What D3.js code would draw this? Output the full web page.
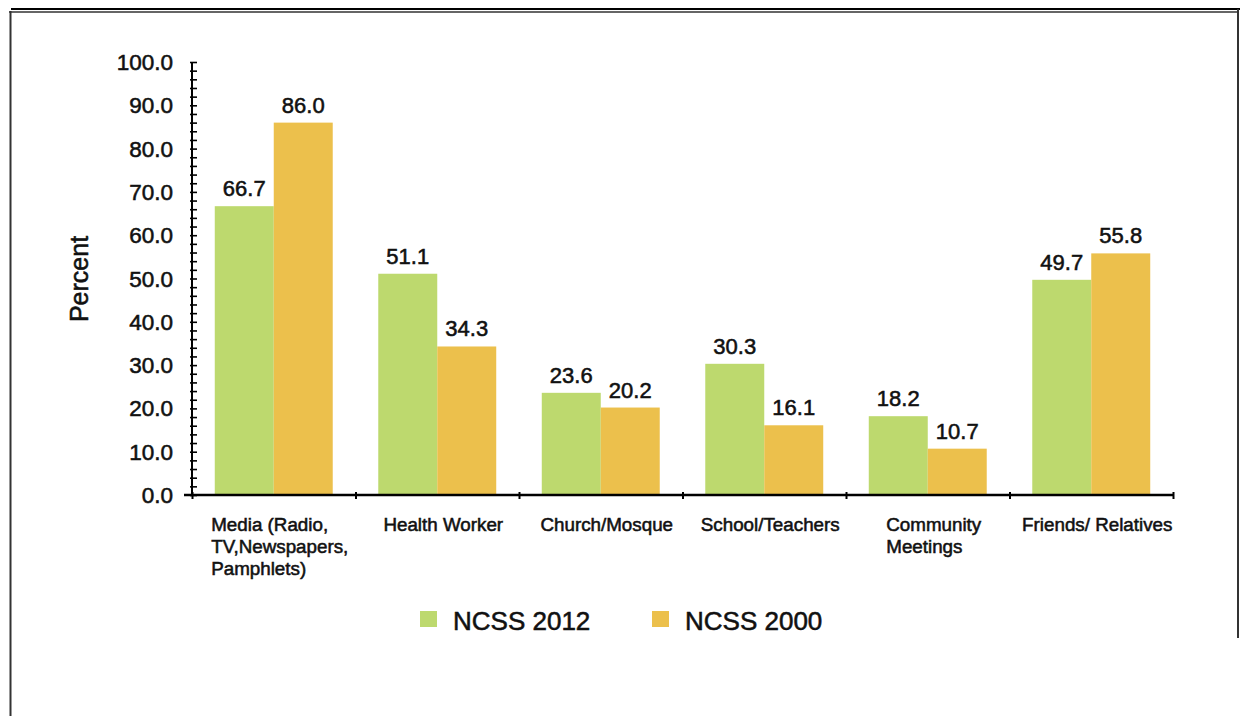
<!DOCTYPE html>
<html>
<head>
<meta charset="utf-8">
<script src="https://cdn.jsdelivr.net/npm/d3@7"></script>
<style>
  html, body { margin: 0; padding: 0; background: #fff; }
  svg { display: block; }
  text { font-family: "Liberation Sans", Arial, Helvetica, sans-serif; fill: #111; }
  .med { stroke: #111; stroke-width: 0.55px; }
</style>
</head>
<body>
<svg id="chart" width="1240" height="716"></svg>
<script>
const categories = [
  ["Media (Radio,", "TV,Newspapers,", "Pamphlets)"],
  ["Health Worker"],
  ["Church/Mosque"],
  ["School/Teachers"],
  ["Community", "Meetings"],
  ["Friends/ Relatives"]
];
const seriesNames = ["NCSS 2012", "NCSS 2000"];
const ncss2012 = [66.7, 51.1, 23.6, 30.3, 18.2, 49.7];
const ncss2000 = [86.0, 34.3, 20.2, 16.1, 10.7, 55.8];
const yTicks = [0, 10, 20, 30, 40, 50, 60, 70, 80, 90, 100];
const colors = ["#BDD96E", "#ECC04C"];

const svg = d3.select("#chart");

// Frame
svg.append("line").attr("x1", 11).attr("x2", 1240).attr("y1", 9).attr("y2", 9).attr("stroke", "#000").attr("stroke-width", 2);
svg.append("line").attr("x1", 9).attr("x2", 1238).attr("y1", 12).attr("y2", 12).attr("stroke", "#333").attr("stroke-width", 1.3);
svg.append("line").attr("x1", 10.5).attr("x2", 10.5).attr("y1", 11).attr("y2", 716).attr("stroke", "#333").attr("stroke-width", 2);
svg.append("line").attr("x1", 1238).attr("x2", 1238).attr("y1", 9).attr("y2", 638).attr("stroke", "#333").attr("stroke-width", 2);

const x0 = d3.scaleBand().domain(d3.range(categories.length)).range([192, 1173]).paddingInner(0).paddingOuter(0);
const x1 = d3.scaleBand().domain([0, 1]).range([0, x0.bandwidth()]).paddingInner(0).paddingOuter(0.386);
const y = d3.scaleLinear().domain([0, 100]).range([495, 62]);

const data = categories.map((c, i) => ({ i, vals: [ncss2012[i], ncss2000[i]] }));

// Bars
const groups = svg.append("g").selectAll("g").data(data).join("g")
  .attr("transform", d => `translate(${x0(d.i)},0)`);
groups.selectAll("rect").data(d => d.vals.map((v, s) => ({ v, s }))).join("rect")
  .attr("x", d => x1(d.s))
  .attr("width", x1.bandwidth())
  .attr("y", d => y(d.v))
  .attr("height", d => y(0) - y(d.v))
  .attr("fill", d => colors[d.s]);
groups.selectAll("text").data(d => d.vals.map((v, s) => ({ v, s }))).join("text")
  .attr("class", "med")
  .attr("x", d => x1(d.s) + x1.bandwidth() / 2)
  .attr("y", d => y(d.v) - 10)
  .attr("text-anchor", "middle")
  .attr("font-size", 22)
  .text(d => d.v.toFixed(1));

// Y axis
const yAxis = d3.axisRight(y)
  .tickValues(d3.range(0, 101, 2))
  .tickSize(5)
  .tickFormat("");
const yg = svg.append("g").attr("transform", "translate(192,0)").call(yAxis);
yg.select(".domain").remove();
yg.selectAll(".tick line").attr("stroke", "#000").attr("stroke-width", 1.6).attr("x1", -2).attr("x2", 5);
svg.append("line").attr("x1", 192).attr("x2", 192).attr("y1", 62).attr("y2", 496).attr("stroke", "#000").attr("stroke-width", 2);

svg.append("g").selectAll("text").data(yTicks).join("text")
  .attr("class", "med")
  .attr("x", 173)
  .attr("y", d => y(d) + 8)
  .attr("text-anchor", "end")
  .attr("font-size", 22.5)
  .text(d => d.toFixed(1));

// X axis
const xAxis = d3.axisBottom(d3.scaleLinear().domain([0, categories.length]).range([192, 1173]))
  .tickValues(d3.range(0, categories.length + 1))
  .tickSize(4)
  .tickFormat("");
const xg = svg.append("g").attr("transform", "translate(0,495)").call(xAxis);
xg.select(".domain").remove();
xg.selectAll(".tick line").attr("stroke", "#000").attr("stroke-width", 2).attr("y1", -3).attr("y2", 4);
svg.append("line").attr("x1", 184).attr("x2", 1174).attr("y1", 495).attr("y2", 495).attr("stroke", "#000").attr("stroke-width", 2.3);

// Category labels (left-aligned block, centred in band)
const catG = svg.append("g").selectAll("text").data(data).join("text")
  .attr("class", "med")
  .attr("font-size", 18.8)
  .attr("y", 531);
catG.each(function(d) {
  const t = d3.select(this);
  categories[d.i].forEach((line, k) => {
    t.append("tspan").attr("dy", k === 0 ? 0 : 22).text(line);
  });
  let w = 0;
  t.selectAll("tspan").each(function() { w = Math.max(w, this.getComputedTextLength()); });
  const left = x0(d.i) + x0.bandwidth() / 2 - w / 2 + 6;
  t.selectAll("tspan").attr("x", left);
});

// Y label
svg.append("text")
  .attr("class", "med")
  .attr("transform", "translate(88,279) rotate(-90)")
  .attr("text-anchor", "middle")
  .attr("font-size", 25)
  .text("Percent");

// Legend
const legendX = [420, 652];
const lg = svg.append("g").selectAll("g").data(seriesNames).join("g")
  .attr("transform", (d, i) => `translate(${legendX[i]},0)`);
lg.append("rect").attr("x", 0).attr("y", 611).attr("width", 17).attr("height", 16).attr("fill", (d, i) => colors[i]);
lg.append("text").attr("class", "med").attr("x", 33).attr("y", 630).attr("font-size", 26).text(d => d);
</script>
</body>
</html>
